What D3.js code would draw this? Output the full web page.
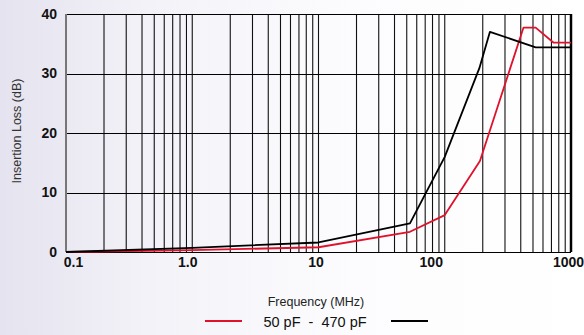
<!DOCTYPE html>
<html>
<head>
<meta charset="utf-8">
<script src="https://cdn.jsdelivr.net/npm/d3@7"></script>
<style>
  body { margin: 0; background: #fff; }
  svg { display: block; font-family: "Liberation Sans", Arial, sans-serif; }
</style>
</head>
<body>
<div id="chart"></div>
<script>
// 50 pF curve
const freq50 = [0.1, 1, 10, 53, 100, 190, 420, 525, 725, 1000];
const loss50 = [0, 0.3, 0.8, 3.4, 6.2, 15.3, 37.7, 37.7, 35.2, 35.2];
// 470 pF curve
const freq470 = [0.1, 1, 10, 53, 100, 188, 228, 525, 1000];
const loss470 = [0, 0.7, 1.6, 4.8, 16.0, 30.9, 37.0, 34.4, 34.4];

const xTicks = [0.1, 1, 10, 100, 1000];
const xTickLabels = ['0.1', '1.0', '10', '100', '1000'];
const yTicks = [0, 10, 20, 30, 40];

const width = 584, height = 335;
const margin = { top: 14, right: 13, bottom: 83, left: 66 };
const w = width - margin.left - margin.right;
const h = height - margin.top - margin.bottom;

const svg = d3.select('#chart').append('svg')
  .attr('width', width)
  .attr('height', height);

// faint background wash
const defs = svg.append('defs');
const grad = defs.append('linearGradient').attr('id', 'bg')
  .attr('x1', '0').attr('y1', '0').attr('x2', '1').attr('y2', '0');
grad.append('stop').attr('offset', '0').attr('stop-color', '#e4e3ef');
grad.append('stop').attr('offset', '0.25').attr('stop-color', '#f3f2f8');
grad.append('stop').attr('offset', '0.6').attr('stop-color', '#fcfcfe');
grad.append('stop').attr('offset', '1').attr('stop-color', '#ffffff');
svg.append('rect').attr('width', width).attr('height', height).attr('fill', 'url(#bg)');

const g = svg.append('g')
  .attr('transform', 'translate(' + margin.left + ',' + margin.top + ')');

const x = d3.scaleLog().domain([0.1, 1000]).range([0, w]);
const y = d3.scaleLinear().domain([0, 40]).range([h, 0]);

// vertical grid (1..9 per decade)
const minor = [];
[0.1, 1, 10, 100].forEach(d => { for (let k = 1; k < 10; k++) minor.push(d * k); });
minor.push(1000);
g.append('g').selectAll('line')
  .data(minor)
  .enter().append('line')
  .attr('x1', d => x(d)).attr('x2', d => x(d))
  .attr('y1', 0).attr('y2', h)
  .attr('stroke', '#111')
  .attr('stroke-width', 1.1);

// horizontal grid
g.append('g').selectAll('line')
  .data(yTicks)
  .enter().append('line')
  .attr('x1', 0).attr('x2', w)
  .attr('y1', d => Math.round(y(d)) + 0.5).attr('y2', d => Math.round(y(d)) + 0.5)
  .attr('stroke', '#000')
  .attr('stroke-width', 1);

// borders
g.append('line').attr('x1', 0).attr('x2', 0).attr('y1', 0).attr('y2', h)
  .attr('stroke', '#777').attr('stroke-width', 2);
g.append('line').attr('x1', w).attr('x2', w).attr('y1', 0).attr('y2', h)
  .attr('stroke', '#000').attr('stroke-width', 2.5);

// Y axis
const yAxis = g.append('g')
  .call(d3.axisLeft(y).tickValues(yTicks).tickSize(0).tickPadding(9));
yAxis.select('.domain').remove();
yAxis.selectAll('text')
  .attr('font-family', '"Liberation Sans", Arial, sans-serif')
  .attr('font-size', 14)
  .attr('font-weight', 'bold')
  .attr('fill', '#111');

// X axis
const xAxis = g.append('g')
  .attr('transform', 'translate(0,' + h + ')')
  .call(d3.axisBottom(x).tickValues(xTicks).tickSize(0).tickPadding(5)
    .tickFormat((d, i) => xTickLabels[i]));
xAxis.select('.domain').remove();
xAxis.selectAll('text')
  .attr('font-family', '"Liberation Sans", Arial, sans-serif')
  .attr('font-size', 14)
  .attr('font-weight', 'bold')
  .attr('fill', '#111')
  .attr('dx', (d, i) => [7, -5, -3, -14, -3][i]);

// curves
const line = d3.line()
  .x(d => x(d[0]))
  .y(d => y(d[1]));

g.append('path')
  .datum(freq50.map((f, i) => [f, loss50[i]]))
  .attr('d', line)
  .attr('fill', 'none')
  .attr('stroke', '#e0112b')
  .attr('stroke-width', 1.8)
  .attr('stroke-linejoin', 'round');

g.append('path')
  .datum(freq470.map((f, i) => [f, loss470[i]]))
  .attr('d', line)
  .attr('fill', 'none')
  .attr('stroke', '#000')
  .attr('stroke-width', 1.8)
  .attr('stroke-linejoin', 'round');

// axis titles
svg.append('text')
  .attr('transform', 'translate(21,' + 131 + ') rotate(-90)')
  .attr('text-anchor', 'middle')
  .attr('font-size', 12.5)
  .attr('fill', '#333')
  .text('Insertion Loss (dB)');

svg.append('text')
  .attr('x', 316).attr('y', 306)
  .attr('text-anchor', 'middle')
  .attr('font-size', 12.5)
  .attr('fill', '#222')
  .text('Frequency (MHz)');

// legend
svg.append('text')
  .attr('x', 315).attr('y', 327)
  .attr('text-anchor', 'middle')
  .attr('font-size', 14.5)
  .attr('fill', '#111')
  .attr('xml:space', 'preserve')
  .style('white-space', 'pre')
  .text('50 pF  -  470 pF');

svg.append('line')
  .attr('x1', 205).attr('x2', 242).attr('y1', 321).attr('y2', 321)
  .attr('stroke', '#e0112b').attr('stroke-width', 2);
svg.append('line')
  .attr('x1', 391).attr('x2', 428).attr('y1', 321).attr('y2', 321)
  .attr('stroke', '#000').attr('stroke-width', 2);
</script>
</body>
</html>
